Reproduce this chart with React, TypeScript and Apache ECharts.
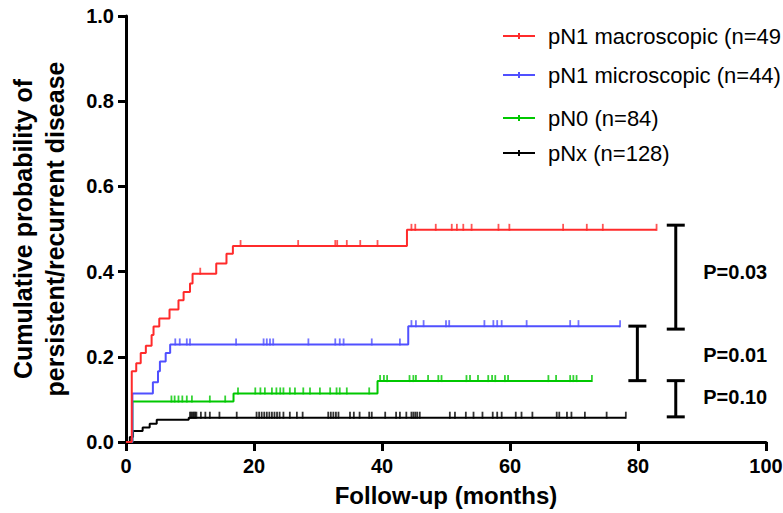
import React, { useEffect, useRef } from "react";
import * as echarts from "echarts";

// Kaplan–Meier cumulative incidence steps: [month, cumulative probability]
const pN1Macro: [number, number][] = [
  [0, 0], [0.9, 0.166], [1.6, 0.185], [2.3, 0.209], [3.1, 0.226], [4.0, 0.251],
  [4.3, 0.271], [5.2, 0.29], [6.8, 0.311], [8.2, 0.333], [9.0, 0.352], [10.0, 0.372],
  [10.4, 0.395], [14.1, 0.419], [15.7, 0.442], [16.7, 0.46], [43.9, 0.498], [82.9, 0.498],
];
const pN1Micro: [number, number][] = [
  [0, 0], [1.0, 0.114], [4.2, 0.14], [5.0, 0.166], [5.3, 0.189], [6.2, 0.209],
  [6.9, 0.229], [44.1, 0.272], [77.2, 0.272],
];
const pN0: [number, number][] = [
  [0, 0], [1.0, 0.095], [16.8, 0.114], [39.3, 0.143], [72.8, 0.143],
];
const pNx: [number, number][] = [
  [0, 0], [0.6, 0.012], [1.1, 0.026], [2.6, 0.034], [3.7, 0.043], [4.8, 0.052],
  [9.8, 0.057], [78.1, 0.057],
];

// Censoring times (months)
const censMacro = [11.6, 17.9, 26.9, 32.7, 33.0, 34.5, 36.6, 39.3, 44.6, 45.2, 48.4, 50.9,
  51.7, 52.7, 54.0, 58.2, 59.9, 68.3, 72.0, 74.5, 82.9];
const censMicro = [7.7, 8.4, 9.5, 10.0, 17.2, 21.5, 22.0, 22.5, 23.0, 28.5, 32.7, 33.4, 34.0,
  38.4, 42.8, 44.6, 45.3, 46.5, 50.0, 50.5, 56.0, 57.4, 58.0, 58.7, 62.6, 69.4, 70.7, 77.2];
const censN0 = [7.1, 7.6, 8.2, 8.8, 9.5, 10.3, 13.1, 15.5, 17.5, 20.2, 21.0, 21.7, 22.8, 23.5,
  24.1, 24.6, 25.6, 26.4, 27.7, 28.75, 30.3, 31.9, 32.9, 33.4, 34.5, 38.0, 39.7, 40.3, 40.8,
  44.3, 44.9, 45.3, 47.2, 48.8, 49.3, 53.2, 53.75, 55.0, 56.6, 57.2, 57.7, 59.2, 59.7, 66.0,
  67.2, 69.4, 69.9, 70.4, 72.8];
const censNx = [10.0, 10.2, 10.4, 10.6, 10.8, 11.0, 11.7, 12.4, 13.1, 14.6, 17.3, 20.4, 20.8,
  21.2, 21.6, 22.0, 22.4, 22.8, 23.2, 23.6, 24.0, 24.6, 25.6, 26.7, 27.6, 31.6, 32.0, 32.4,
  32.8, 33.2, 35.0, 35.6, 36.5, 38.0, 38.4, 40.5, 42.2, 42.8, 43.8, 44.6, 44.9, 45.2, 45.5,
  45.9, 50.6, 51.4, 53.1, 54.3, 55.7, 57.3, 58.0, 58.7, 60.9, 61.8, 63.5, 67.3, 67.7, 68.9,
  69.6, 71.7, 75.1, 78.1];

const groupNames = ["pN1 macroscopic (n=49", "pN1 microscopic (n=44)", "pN0 (n=84)", "pNx (n=128)"];
const groupColors = ["#ff2b2b", "#5050ff", "#00c800", "#000000"];
const legendRowTops = [19, 58, 101, 136];

// Log-rank comparisons: bracket x (months), low/high probability, label row
const bracketX = [85.9, 79.9, 85.9];
const bracketLow = [0.265, 0.144, 0.059];
const bracketHigh = [0.509, 0.272, 0.144];
const pLabels = ["P=0.03", "P=0.01", "P=0.10"];
const pLabelY = [0.4, 0.204, 0.106];
const pLabelX = 90.2;

const xTicks = [0, 20, 40, 60, 80, 100];
const yTicks = [0, 0.2, 0.4, 0.6, 0.8, 1.0];

const FONT = "Liberation Sans, Arial, Helvetica, sans-serif";

function valueAt(steps: [number, number][], t: number): number {
  let v = 0;
  for (const [x, y] of steps) if (x <= t) v = y;
  return v;
}

const stepSets = [pN1Macro, pN1Micro, pN0, pNx];
const censorSets = [censMacro, censMicro, censN0, censNx];

export default function App() {
  const ref = useRef<HTMLDivElement>(null);

  useEffect(() => {
    if (!ref.current) return;
    const chart = echarts.init(ref.current, undefined, { renderer: "svg" });

    const lineSeries = stepSets.map((steps, i) => ({
      name: groupNames[i],
      type: "line",
      step: "end",
      data: steps,
      showSymbol: false,
      lineStyle: { color: groupColors[i], width: 2 },
      itemStyle: { color: groupColors[i] },
      z: 3 + (3 - i),
    }));

    const censorSeries = censorSets.map((times, i) => ({
      name: "censor-" + i,
      type: "scatter",
      data: times.map((t) => [t, valueAt(stepSets[i], t)]),
      symbol: "rect",
      symbolSize: [1.8, 7],
      symbolOffset: [0, -2.5],
      itemStyle: { color: groupColors[i] },
      silent: true,
      z: 3 + (3 - i),
    }));

    const bracketSeries = {
      name: "log-rank",
      type: "custom",
      data: bracketX.map((x, i) => [x, bracketLow[i], bracketHigh[i], pLabelY[i]]),
      silent: true,
      renderItem: (params: any, api: any) => {
        const x = api.value(0);
        const lo = api.coord([x, api.value(1)]);
        const hi = api.coord([x, api.value(2)]);
        const lab = api.coord([pLabelX, api.value(3)]);
        const half = 9;
        const stroke = { stroke: "#000", lineWidth: 3 };
        return {
          type: "group",
          children: [
            { type: "line", shape: { x1: lo[0], y1: lo[1], x2: hi[0], y2: hi[1] }, style: stroke },
            { type: "line", shape: { x1: hi[0] - half, y1: hi[1], x2: hi[0] + half, y2: hi[1] }, style: stroke },
            { type: "line", shape: { x1: lo[0] - half, y1: lo[1], x2: lo[0] + half, y2: lo[1] }, style: stroke },
            {
              type: "text",
              x: lab[0],
              y: lab[1],
              style: {
                text: pLabels[params.dataIndex],
                font: `bold 20px ${FONT}`,
                fill: "#000",
                align: "left",
                verticalAlign: "middle",
              },
            },
          ],
        };
      },
      z: 5,
    };

    const legends = groupNames.map((name, i) => ({
      show: true,
      data: [{ name, icon: "path://M0,3h32v2h-32z M15,1h2v6h-2z" }],
      left: 498,
      top: legendRowTops[i],
      itemWidth: 32,
      itemHeight: 6,
      selectedMode: false,
      textStyle: {
        fontFamily: FONT,
        fontSize: 22,
        color: "#000",
        lineHeight: 24,
        padding: [0, 0, 0, 8],
      },
    }));

    chart.setOption({
      animation: false,
      backgroundColor: "#ffffff",
      grid: {
        left: 126,
        right: 17,
        top: 16,
        bottom: 71,
        containLabel: false,
        outerBoundsMode: "none",
      },
      legend: legends,
      xAxis: {
        type: "value",
        min: xTicks[0],
        max: xTicks[xTicks.length - 1],
        interval: 20,
        name: "Follow-up (months)",
        nameLocation: "middle",
        nameGap: 41,
        nameTextStyle: { fontFamily: FONT, fontSize: 24, fontWeight: "bold", color: "#000" },
        axisLine: { show: true, lineStyle: { color: "#000", width: 3 } },
        axisTick: { show: true, length: 9, lineStyle: { color: "#000", width: 3 } },
        axisLabel: { fontFamily: FONT, fontSize: 20, fontWeight: "bold", color: "#000", margin: 14 },
        splitLine: { show: false },
      },
      yAxis: {
        type: "value",
        min: yTicks[0],
        max: yTicks[yTicks.length - 1],
        interval: 0.2,
        name: "Cumulative probability of\npersistent/recurrent disease",
        nameLocation: "middle",
        nameGap: 55,
        nameTextStyle: {
          fontFamily: FONT,
          fontSize: 25,
          fontWeight: "bold",
          color: "#000",
          lineHeight: 32,
        },
        axisLine: { show: true, lineStyle: { color: "#000", width: 3 } },
        axisTick: { show: true, length: 8, lineStyle: { color: "#000", width: 3 } },
        axisLabel: {
          fontFamily: FONT,
          fontSize: 20,
          fontWeight: "bold",
          color: "#000",
          margin: 12,
          formatter: (v: number) => v.toFixed(1),
        },
        splitLine: { show: false },
      },
      series: [...lineSeries, ...censorSeries, bracketSeries],
    });

    return () => chart.dispose();
  }, []);

  return (
    <div
      ref={ref}
      style={{ position: "fixed", left: 0, top: 0, width: 783, height: 513, background: "#fff" }}
    />
  );
}
